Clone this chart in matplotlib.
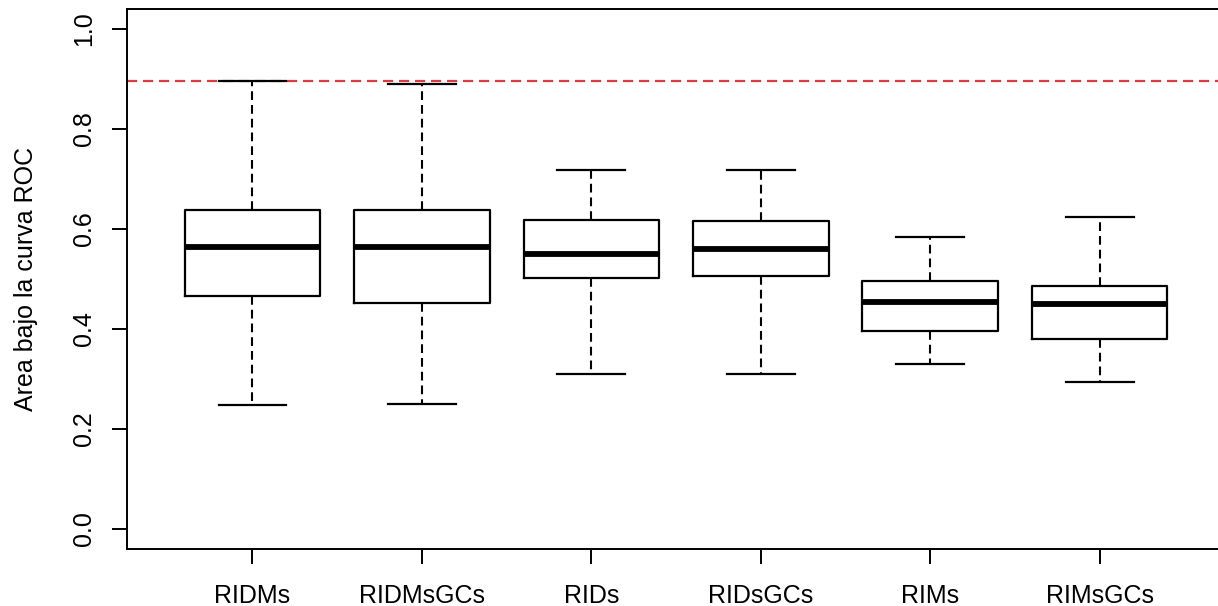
import matplotlib
matplotlib.use("Agg")
import matplotlib.pyplot as plt

# Area under the ROC curve per model
models = ["RIDMs", "RIDMsGCs", "RIDs", "RIDsGCs", "RIMs", "RIMsGCs"]
whisker_low = [0.249, 0.251, 0.311, 0.311, 0.330, 0.294]
q1 = [0.466, 0.453, 0.502, 0.506, 0.397, 0.380]
median = [0.564, 0.564, 0.550, 0.561, 0.455, 0.451]
q3 = [0.639, 0.639, 0.619, 0.616, 0.496, 0.486]
whisker_high = [0.896, 0.890, 0.718, 0.718, 0.585, 0.624]
reference_auc = 0.896
y_ticks = [0.0, 0.2, 0.4, 0.6, 0.8, 1.0]

plt.rcParams["font.family"] = ["Liberation Sans", "DejaVu Sans"]

fig = plt.figure(figsize=(12.18, 6.06), dpi=100)
ax = fig.add_axes([127 / 1218, 57 / 606, 1098 / 1218, 540 / 606])

stats = [
    dict(label=m, whislo=lo, q1=a, med=md, q3=b, whishi=hi, fliers=[])
    for m, lo, a, md, b, hi in zip(models, whisker_low, q1, median, q3, whisker_high)
]
positions = list(range(1, len(models) + 1))

dash = (0, (4.2, 2.4))
ax.bxp(
    stats,
    positions=positions,
    widths=0.8,
    showfliers=False,
    boxprops=dict(color="black", linewidth=1.6),
    medianprops=dict(color="black", linewidth=4.2, solid_capstyle="butt"),
    whiskerprops=dict(color="black", linewidth=1.5, linestyle=dash),
    capprops=dict(color="black", linewidth=1.6),
    capwidths=0.4,
)

ax.axhline(reference_auc, color="#de3a40", linewidth=1.6, linestyle=(0, (4.6, 2.6)), zorder=0)

ax.set_xlim(0.26, 6.74)
ax.set_ylim(-0.04, 1.04)
ax.set_xticks(positions)
ax.set_xticklabels(models)
ax.set_yticks(y_ticks)
ax.set_yticklabels([f"{v:.1f}" for v in y_ticks])
for t in ax.get_yticklabels():
    t.set_rotation(90)
    t.set_va("center")

ax.tick_params(axis="both", length=11, width=1.4, labelsize=18, color="black")
ax.tick_params(axis="x", pad=14.5)
ax.tick_params(axis="y", pad=11)
for s in ax.spines.values():
    s.set_linewidth(1.4)
    s.set_color("black")
ax.spines["right"].set_visible(False)

ax.set_ylabel("Area bajo la curva ROC", fontsize=18)
ax.yaxis.set_label_coords(-0.081, 0.5)

fig.savefig("out.png", dpi=100, facecolor="white")
